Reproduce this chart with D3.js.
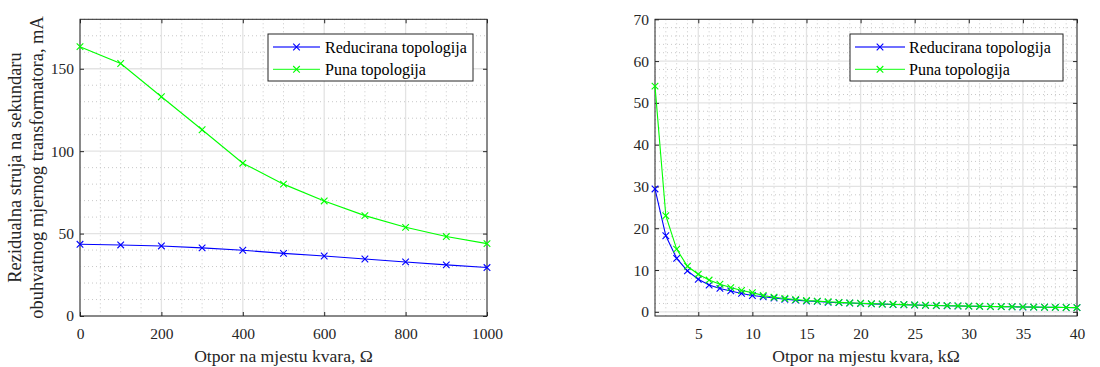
<!DOCTYPE html>
<html><head><meta charset="utf-8">
<script src="https://cdn.jsdelivr.net/npm/d3@7"></script>
<style>
body{margin:0;background:#fff;}
</style></head><body>
<svg id="c" width="1100" height="367"></svg>
<script>
// ---- Data ----
const leftX = [0,100,200,300,400,500,600,700,800,900,1000];
const leftReduced = [43.5,43.1,42.5,41.3,39.9,38.0,36.4,34.6,32.8,31.0,29.4];
const leftFull = [163.4,153.2,133.0,113.0,92.7,80.0,69.8,60.9,53.8,48.2,43.9];
const leftXTicks = [0,200,400,600,800,1000];
const leftYTicks = [0,50,100,150];

const rightX = [1,2,3,4,5,6,7,8,9,10,11,12,13,14,15,16,17,18,19,20,21,22,23,24,25,26,27,28,29,30,31,32,33,34,35,36,37,38,39,40];
const rightReduced = [29.4,18.2,12.8,9.8,7.8,6.4,5.6,5.0,4.4,3.9,3.6,3.3,3.0,2.8,2.6,2.5,2.3,2.2,2.1,2.0,1.9,1.85,1.75,1.7,1.62,1.55,1.5,1.45,1.4,1.35,1.3,1.27,1.23,1.2,1.15,1.12,1.09,1.06,1.03,1.0];
const rightFull = [54.0,23.0,15.0,10.9,9.0,7.6,6.6,5.8,5.1,4.6,3.9,3.5,3.2,2.95,2.7,2.55,2.4,2.25,2.15,2.05,1.95,1.88,1.8,1.72,1.65,1.58,1.52,1.47,1.42,1.37,1.32,1.28,1.24,1.21,1.17,1.13,1.1,1.07,1.04,1.01];
const rightXTicks = [5,10,15,20,25,30,35,40];
const rightYTicks = [0,10,20,30,40,50,60,70];

const seriesNames = ["Reducirana topologija","Puna topologija"];
const seriesColors = ["#0000ff","#00ff00"];

const FONT = "Liberation Serif";
const svg = d3.select("#c");
const axisColor = "#262626";

function drawPanel(o){
  const g = svg.append("g");
  const x = d3.scaleLinear().domain(o.xDomain).range([o.x0,o.x1]);
  const y = d3.scaleLinear().domain(o.yDomain).range([o.y1,o.y0]);
  // minor grid
  const xm = d3.range(o.xDomain[0], o.xDomain[1]+1e-9, o.xMinor).filter(v=>!o.xTicks.includes(v));
  const ym = d3.range(Math.ceil(o.yDomain[0]/o.yMinor)*o.yMinor, o.yDomain[1]+1e-9, o.yMinor).filter(v=>!o.yTicks.includes(v));
  g.selectAll(".xm").data(xm).enter().append("line")
    .attr("x1",d=>x(d)).attr("x2",d=>x(d)).attr("y1",o.y0).attr("y2",o.y1)
    .attr("stroke","#c8c8c8").attr("stroke-width",1).attr("stroke-dasharray","1,3");
  g.selectAll(".ym").data(ym).enter().append("line")
    .attr("y1",d=>y(d)).attr("y2",d=>y(d)).attr("x1",o.x0).attr("x2",o.x1)
    .attr("stroke","#c8c8c8").attr("stroke-width",1).attr("stroke-dasharray","1,3");
  // major grid
  g.selectAll(".xg").data(o.xTicks).enter().append("line")
    .attr("x1",d=>x(d)).attr("x2",d=>x(d)).attr("y1",o.y0).attr("y2",o.y1)
    .attr("stroke","#e3e3e3").attr("stroke-width",1.3);
  g.selectAll(".yg").data(o.yTicks).enter().append("line")
    .attr("y1",d=>y(d)).attr("y2",d=>y(d)).attr("x1",o.x0).attr("x2",o.x1)
    .attr("stroke","#e3e3e3").attr("stroke-width",1.3);
  // axes via d3 axis
  const tl = 4;
  const fmt = d3.format("d");
  const ax = g.append("g").attr("transform",`translate(0,${o.y1})`)
    .call(d3.axisBottom(x).tickValues(o.xTicks).tickFormat(fmt).tickSizeInner(-tl).tickSizeOuter(0).tickPadding(12));
  const axT = g.append("g").attr("transform",`translate(0,${o.y0})`)
    .call(d3.axisTop(x).tickValues(o.xTicks).tickSizeInner(-tl).tickSizeOuter(0).tickFormat(""));
  const ay = g.append("g").attr("transform",`translate(${o.x0},0)`)
    .call(d3.axisLeft(y).tickValues(o.yTicks).tickFormat(fmt).tickSizeInner(-tl).tickSizeOuter(0).tickPadding(6));
  const ayR = g.append("g").attr("transform",`translate(${o.x1},0)`)
    .call(d3.axisRight(y).tickValues(o.yTicks).tickSizeInner(-tl).tickSizeOuter(0).tickFormat(""));
  [ax,axT,ay,ayR].forEach(a=>{
    a.attr("font-family",null).attr("font-size",null);
    a.select(".domain").remove();
    a.selectAll("line").attr("stroke",axisColor);
    a.selectAll("text").attr("fill",axisColor).attr("font-family",FONT).attr("font-size",15.5);
  });
  g.append("rect").attr("x",o.x0).attr("y",o.y0).attr("width",o.x1-o.x0).attr("height",o.y1-o.y0)
    .attr("fill","none").attr("stroke",axisColor).attr("stroke-width",1);
  // series
  const line = d3.line().x(d=>x(d[0])).y(d=>y(d[1]));
  o.series.forEach((vals,i)=>{
    const pts = o.xs.map((xv,j)=>[xv,vals[j]]);
    const sg = g.append("g");
    sg.append("path").datum(pts).attr("d",line).attr("fill","none")
      .attr("stroke",seriesColors[i]).attr("stroke-width",1.1);
    const s = 3.3;
    sg.selectAll("path.m").data(pts).enter().append("path").attr("class","m")
      .attr("d",d=>{const px=x(d[0]),py=y(d[1]);return `M${px-s},${py-s}L${px+s},${py+s}M${px-s},${py+s}L${px+s},${py-s}`;})
      .attr("stroke",seriesColors[i]).attr("stroke-width",1.1).attr("fill","none");
  });
  // legend
  const L = o.legend;
  g.append("rect").attr("x",L.x).attr("y",L.y).attr("width",L.w).attr("height",L.h)
    .attr("fill","#fff").attr("stroke",axisColor).attr("stroke-width",1);
  seriesNames.forEach((nm,i)=>{
    const cy = L.y + 13 + i*22.3;
    g.append("line").attr("x1",L.lx0).attr("x2",L.lx1).attr("y1",cy).attr("y2",cy)
      .attr("stroke",seriesColors[i]).attr("stroke-width",1.3).attr("opacity",0.75);
    const mx=(L.lx0+L.lx1)/2, s=3.3;
    g.append("path").attr("d",`M${mx-s},${cy-s}L${mx+s},${cy+s}M${mx-s},${cy+s}L${mx+s},${cy-s}`)
      .attr("stroke",seriesColors[i]).attr("stroke-width",1.1);
    g.append("text").attr("x",L.tx).attr("y",cy).attr("dy","0.35em")
      .attr("font-family",FONT).attr("font-size",16)
      .attr("fill","#000").text(nm);
  });
  // x label
  g.append("text").attr("x",(o.x0+o.x1)/2).attr("y",o.y1+46).attr("text-anchor","middle")
    .attr("font-family",FONT).attr("font-size",17.6)
    .attr("fill",axisColor).text(o.xLabel);
  return {x,y};
}

drawPanel({id:1, x0:80, x1:487, y0:19.3, y1:316, xDomain:[0,1000], yDomain:[0,180],
  xTicks:leftXTicks, yTicks:leftYTicks, xMinor:50, yMinor:10,
  xs:leftX, series:[leftReduced,leftFull],
  legend:{x:268,y:34,w:205,h:47,lx0:273,lx1:320,tx:325},
  xLabel:"Otpor na mjestu kvara, Ω"});

drawPanel({id:2, x0:655, x1:1077, y0:19.3, y1:316, xDomain:[1,40], yDomain:[-1,70],
  xTicks:rightXTicks, yTicks:rightYTicks, xMinor:1, yMinor:2,
  xs:rightX, series:[rightReduced,rightFull],
  legend:{x:850,y:34,w:213,h:47,lx0:855,lx1:905,tx:909},
  xLabel:"Otpor na mjestu kvara, kΩ"});

// y label left (two lines)
const yl = svg.append("text").attr("transform","translate(21,167.5) rotate(-90)")
  .attr("font-family",FONT).attr("font-size",18.4)
  .attr("text-anchor","middle").attr("fill",axisColor);
yl.append("tspan").attr("x",0).attr("dy","0").text("Rezidualna struja na sekundaru");
yl.append("tspan").attr("x",0).attr("dy","22").text("obuhvatnog mjernog transformatora, mA");
</script>
</body></html>
